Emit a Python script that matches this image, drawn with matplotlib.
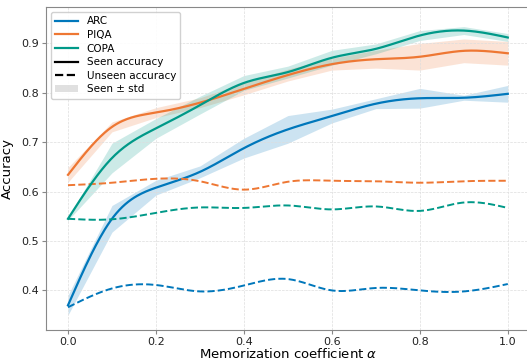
import numpy as np
import matplotlib
matplotlib.use('Agg')
import matplotlib.pyplot as plt
from matplotlib.lines import Line2D
from matplotlib.patches import Patch

# -- data --
alpha = [0.0, 0.1, 0.2, 0.3, 0.4, 0.5, 0.6, 0.7, 0.8, 0.9, 1.0]

arc_seen = [0.370, 0.545, 0.608, 0.640, 0.688, 0.726, 0.753, 0.778, 0.789, 0.790, 0.798]
arc_std = [0.020, 0.027, 0.015, 0.012, 0.020, 0.028, 0.014, 0.010, 0.020, 0.005, 0.017]
arc_unseen = [0.366, 0.404, 0.411, 0.398, 0.410, 0.423, 0.400, 0.405, 0.400, 0.398, 0.413]

piqa_seen = [0.634, 0.731, 0.760, 0.780, 0.808, 0.836, 0.858, 0.868, 0.873, 0.885, 0.880]
piqa_std = [0.015, 0.010, 0.010, 0.010, 0.012, 0.012, 0.012, 0.018, 0.027, 0.024, 0.024]
piqa_unseen = [0.613, 0.618, 0.626, 0.621, 0.604, 0.620, 0.622, 0.621, 0.618, 0.621, 0.622]

copa_seen = [0.545, 0.668, 0.728, 0.775, 0.820, 0.842, 0.871, 0.889, 0.916, 0.926, 0.912]
copa_std = [0.003, 0.030, 0.020, 0.018, 0.015, 0.012, 0.015, 0.010, 0.010, 0.008, 0.008]
copa_unseen = [0.545, 0.544, 0.557, 0.568, 0.567, 0.572, 0.564, 0.570, 0.561, 0.578, 0.567]

names = ['ARC', 'PIQA', 'COPA']
colors = ['#0077BB', '#EE7733', '#009988']


def smooth(x, y, n=300):
    # natural cubic spline, just for drawing the curve
    x = np.asarray(x, float)
    y = np.asarray(y, float)
    k = len(x)
    h = np.diff(x)
    A = np.zeros((k, k))
    b = np.zeros(k)
    A[0, 0] = A[-1, -1] = 1
    for i in range(1, k - 1):
        A[i, i - 1] = h[i - 1]
        A[i, i] = 2 * (h[i - 1] + h[i])
        A[i, i + 1] = h[i]
        b[i] = 3 * ((y[i + 1] - y[i]) / h[i] - (y[i] - y[i - 1]) / h[i - 1])
    c = np.linalg.solve(A, b)
    xs = np.linspace(x[0], x[-1], n)
    idx = np.clip(np.searchsorted(x, xs) - 1, 0, k - 2)
    dx = xs - x[idx]
    bb = (y[idx + 1] - y[idx]) / h[idx] - h[idx] * (2 * c[idx] + c[idx + 1]) / 3
    dd = (c[idx + 1] - c[idx]) / (3 * h[idx])
    return xs, y[idx] + bb * dx + c[idx] * dx ** 2 + dd * dx ** 3


fig = plt.figure(figsize=(5.27, 3.61), dpi=100)
ax = fig.add_axes([0.0873, 0.086, 0.918, 0.895])

seen = [arc_seen, piqa_seen, copa_seen]
stds = [arc_std, piqa_std, copa_std]
unseen = [arc_unseen, piqa_unseen, copa_unseen]

for name, col, s, sd, u in zip(names, colors, seen, stds, unseen):
    s = np.array(s)
    sd = np.array(sd)
    ax.fill_between(alpha, s - sd, s + sd, color=col, alpha=0.2, lw=0)
    xs, ys = smooth(alpha, s)
    ax.plot(xs, ys, color=col, lw=1.6)
    xs, yu = smooth(alpha, u)
    ax.plot(xs, yu, color=col, lw=1.4, ls='--')

ax.set_xlim(-0.05, 1.05)
ax.set_ylim(0.32, 0.974)
ax.set_xticks([0.0, 0.2, 0.4, 0.6, 0.8, 1.0])
ax.set_yticks([0.4, 0.5, 0.6, 0.7, 0.8, 0.9])
ax.tick_params(labelsize=8, colors='#222222', length=3, color='#888888', pad=2)
ax.grid(True, ls='--', lw=0.5, color='#dddddd')
for sp in ax.spines.values():
    sp.set_color('#888888')
ax.set_xlabel(r'Memorization coefficient $\alpha$', fontsize=9.5, labelpad=0)
ax.set_ylabel('Accuracy', fontsize=9.5, labelpad=5)

handles = [Line2D([], [], color=c, lw=1.6) for c in colors]
handles += [Line2D([], [], color='black', lw=1.6),
            Line2D([], [], color='black', lw=1.6, ls='--'),
            Patch(facecolor='#cccccc', alpha=0.6, edgecolor='none')]
labels = names + ['Seen accuracy', 'Unseen accuracy', 'Seen ± std']
ax.legend(handles, labels, loc='upper left', fontsize=7.5, frameon=True,
          borderpad=0.4, labelspacing=0.35, handlelength=2.2, framealpha=0.9)

fig.savefig('out.png', dpi=100)
